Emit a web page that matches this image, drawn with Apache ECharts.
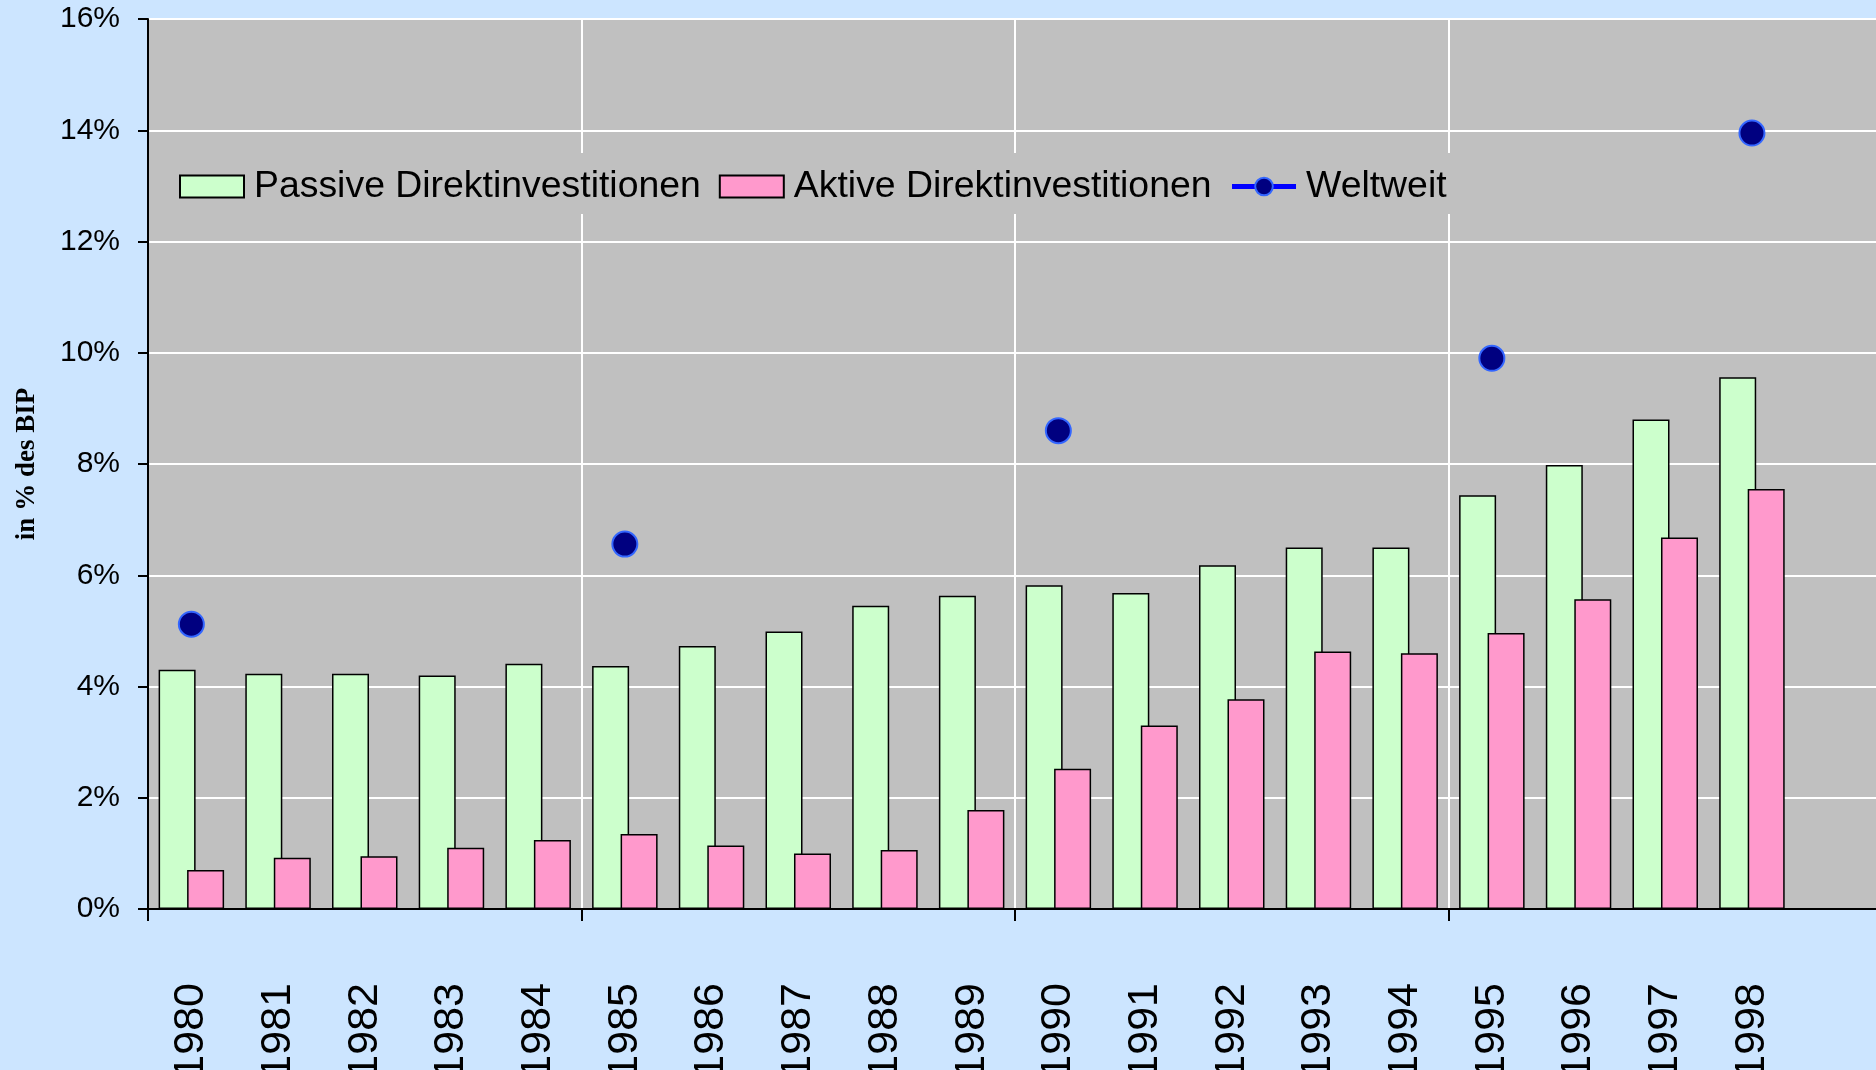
<!DOCTYPE html>
<html>
<head>
<meta charset="utf-8">
<script src="https://cdn.jsdelivr.net/npm/echarts@6/dist/echarts.min.js"></script>
<style>
  html, body { margin: 0; padding: 0; background: #cce5ff; }
  #main { width: 1876px; height: 1070px; }
</style>
</head>
<body>
<div id="main"></div>
<script>
// Jahre (20. Kategorie leer, Achse läuft über den Rand hinaus)
var years = ['1980', '1981', '1982', '1983', '1984', '1985', '1986', '1987', '1988', '1989',
             '1990', '1991', '1992', '1993', '1994', '1995', '1996', '1997', '1998', ''];

// in % des BIP
var passive = [4.30, 4.23, 4.23, 4.20, 4.41, 4.37, 4.73, 4.99, 5.45, 5.63,
               5.82, 5.68, 6.18, 6.50, 6.50, 7.44, 7.98, 8.80, 9.56, null];
var aktive = [0.70, 0.92, 0.95, 1.10, 1.24, 1.35, 1.14, 1.00, 1.06, 1.78,
              2.52, 3.30, 3.77, 4.63, 4.60, 4.96, 5.57, 6.68, 7.55, null];
var weltweit = [5.12, null, null, null, null, 6.56, null, null, null, null,
                8.60, null, null, null, null, 9.90, null, null, 13.95, null];

var yTicks = { min: 0, max: 16, step: 2 };

// nur alle 5 Jahre Tick / senkrechte Gitterlinie
function everyFifth(index) {
    return index % 5 === 0;
}

var myChart = echarts.init(document.getElementById('main'));

var option = {
    backgroundColor: '#cce5ff',
    animation: false,
    textStyle: { fontFamily: 'Liberation Sans, Arial, sans-serif' },
    grid: {
        left: 148,
        top: 19,
        right: -6,
        bottom: 161,
        outerBoundsMode: 'none',
        show: true,
        backgroundColor: '#c0c0c0',
        borderColor: '#808080',
        borderWidth: 2
    },
    legend: {
        left: 170,
        top: 153,
        padding: [15, 9, 9, 9],
        backgroundColor: '#c0c0c0',
        itemWidth: 64,
        itemHeight: 22,
        itemGap: 18,
        textStyle: {
            fontSize: 37.4,
            color: '#000',
            fontFamily: 'Liberation Sans, Arial, sans-serif',
            padding: [0, 0, 0, 5]
        },
        data: [
            { name: 'Passive Direktinvestitionen', icon: 'rect' },
            { name: 'Aktive Direktinvestitionen', icon: 'rect' },
            { name: 'Weltweit', lineStyle: { color: '#0000ff', width: 5 } }
        ]
    },
    xAxis: {
        type: 'category',
        data: years,
        boundaryGap: true,
        axisLine: { lineStyle: { color: '#000', width: 2 } },
        axisTick: { show: true, interval: everyFifth, length: 12, lineStyle: { color: '#000', width: 2 } },
        axisLabel: {
            interval: 0,
            rotate: 90,
            margin: 74,
            fontSize: 43,
            color: '#000',
            fontFamily: 'Liberation Sans, Arial, sans-serif'
        },
        splitLine: { show: true, interval: everyFifth, lineStyle: { color: '#ffffff', width: 2 } }
    },
    yAxis: {
        type: 'value',
        min: yTicks.min,
        max: yTicks.max,
        interval: yTicks.step,
        name: 'in % des BIP',
        nameLocation: 'middle',
        nameGap: 107,
        nameTextStyle: {
            fontFamily: 'Liberation Serif, Times New Roman, serif',
            fontWeight: 'bold',
            fontSize: 27,
            color: '#000'
        },
        axisLine: { show: true, lineStyle: { color: '#000', width: 2 } },
        axisTick: { show: true, length: 10, lineStyle: { color: '#000', width: 2 } },
        axisLabel: {
            formatter: '{value}%',
            margin: 28,
            fontSize: 30,
            color: '#000',
            fontFamily: 'Liberation Sans, Arial, sans-serif'
        },
        splitLine: { show: true, lineStyle: { color: '#ffffff', width: 2 } }
    },
    series: [
        {
            name: 'Passive Direktinvestitionen',
            type: 'bar',
            data: passive,
            barWidth: 37,
            barGap: '-23%',
            itemStyle: { color: '#ccffcc', borderColor: '#000', borderWidth: 1.5 }
        },
        {
            name: 'Aktive Direktinvestitionen',
            type: 'bar',
            data: aktive,
            barWidth: 37,
            barGap: '-23%',
            itemStyle: { color: '#ff99cc', borderColor: '#000', borderWidth: 1.5 }
        },
        {
            name: 'Weltweit',
            type: 'line',
            data: weltweit,
            connectNulls: false,
            showAllSymbol: true,
            symbol: 'circle',
            symbolSize: 25,
            lineStyle: { color: '#0000ff', width: 4 },
            itemStyle: { color: '#000080', borderColor: '#3366ff', borderWidth: 2 },
            z: 5
        }
    ]
};

myChart.setOption(option);
</script>
</body>
</html>
